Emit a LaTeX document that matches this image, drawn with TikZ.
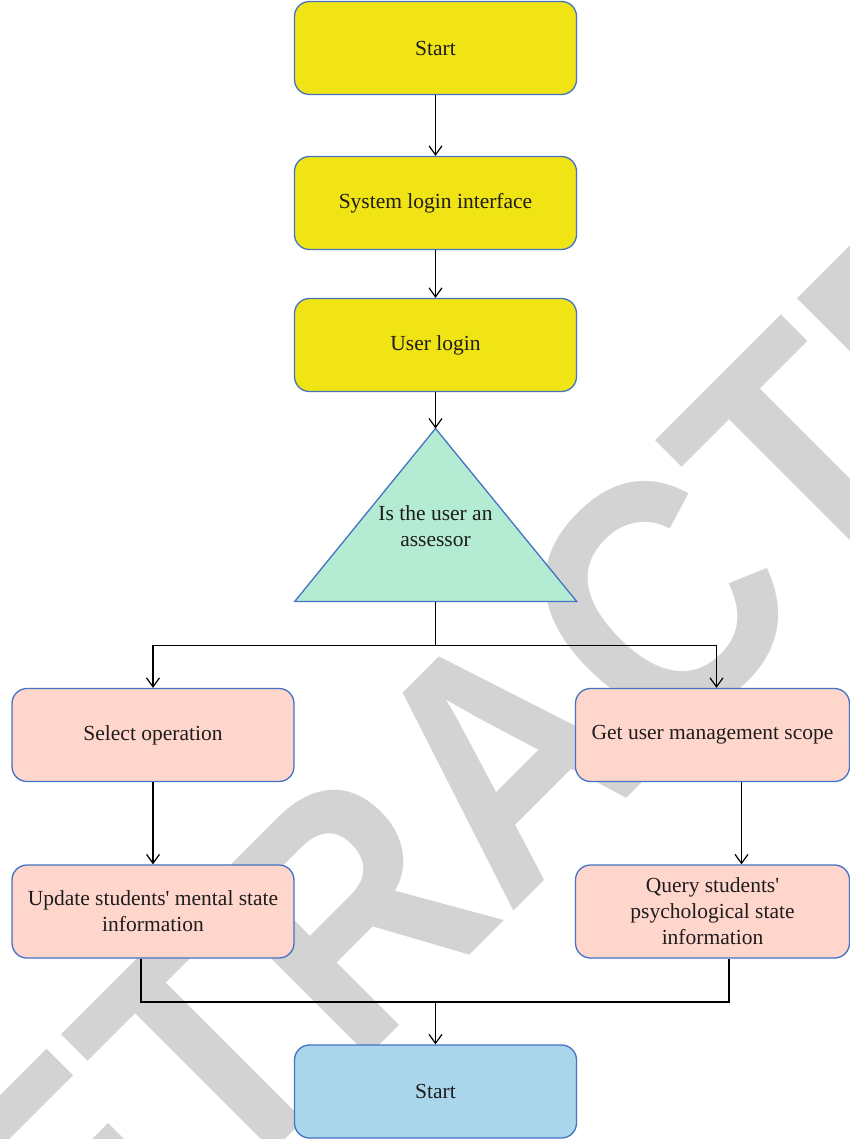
\documentclass[tikz,border=0pt]{standalone}
\usepackage{fontspec}
\usepackage{graphicx}
\setmainfont{Liberation Serif}[Ligatures=TeXOff]
\newfontfamily\stampfont{Liberation Sans}[Ligatures=TeXOff]
\usetikzlibrary{arrows.meta}

\definecolor{boxline}{RGB}{68,114,196}
\definecolor{startfill}{RGB}{241,228,20}
\definecolor{decfill}{RGB}{179,235,211}
\definecolor{opfill}{RGB}{255,214,204}
\definecolor{endfill}{RGB}{169,214,234}
\definecolor{stampgray}{RGB}{211,211,211}
\definecolor{ink}{RGB}{30,28,28}

\begin{document}
\begin{tikzpicture}[x=1pt,y=-1pt,
  labeltext/.style={text=ink, align=center, inner sep=0pt, font=\fontsize{21.5}{26}\selectfont},
  flowbox/.style={labeltext, draw=boxline, line width=1.3pt, rounded corners=15pt,
                  minimum width=282pt, minimum height=93pt},
  sidebox/.style={flowbox, minimum width=274pt},
  link/.style={draw=black, line width=1.2pt},
  arr/.style={link, -{Straight Barb[length=9pt,width=13pt]}}]

% page frame
\useasboundingbox (0,0) rectangle (850,1139);
\clip (0,0) rectangle (850,1139);
\fill[white] (0,0) rectangle (850,1139);

% diagonal stamp lettering in the background
\node[anchor=base, rotate=45, inner sep=0pt, text=stampgray,
      font=\stampfont\bfseries\fontsize{325}{325}\selectfont] (stamp) at (586,839)
      {\scalebox{0.93}[1.04]{RETRACTED}};

% process boxes
\node[flowbox, fill=startfill] (begin)     at (435.5,48)    {Start};
\node[flowbox, fill=startfill] (sysLogin)  at (435.5,203)   {System login interface};
\node[flowbox, fill=startfill] (userLogin) at (435.5,345)   {User login};

% decision triangle
\coordinate (decTop)  at (435.5,428.5);
\coordinate (decL)    at (294.7,601.5);
\coordinate (decR)    at (576.7,601.5);
\coordinate (decBase) at (435.5,601.5);
\filldraw[fill=decfill, draw=boxline, line width=1.3pt, line join=miter]
  (decTop) -- (decR) -- (decL) -- cycle;
\node[labeltext] (decText) at (435.5,526) {Is the user an\\assessor};

\node[flowbox, fill=opfill] (selOp)    at (153,735)    {Select operation};
\node[sidebox, fill=opfill] (getScope) at (712.5,735)  {Get user management scope};
\node[flowbox, fill=opfill] (update)   at (153,911.5)  {Update students' mental state\\information};
\node[sidebox, fill=opfill] (query)    at (712.5,911.5) {Query students'\\psychological state\\information};
\node[flowbox, fill=endfill] (finish)  at (435.5,1091.5) {Start};

% connectors
\draw[arr] (begin.south) -- (sysLogin.north);
\draw[arr] (sysLogin.south) -- (userLogin.north);
\draw[arr] (userLogin.south) -- (decTop);

\coordinate (split) at (435.5,645.5);
\draw[link] (decBase) -- (split);
\draw[arr] (split) -| (selOp.north);
\draw[arr] (split) -| ([xshift=4pt]getScope.north);

\draw[arr] (selOp.south) -- (update.north);
\draw[arr] ([xshift=29pt]getScope.south) -- ([xshift=29pt]query.north);

\coordinate (merge) at (435.5,1002);
\draw[link] ([xshift=-12pt]update.south) |- (merge) -| ([xshift=16.5pt]query.south);
\draw[arr] (merge) -- (finish.north);
\end{tikzpicture}
\end{document}
